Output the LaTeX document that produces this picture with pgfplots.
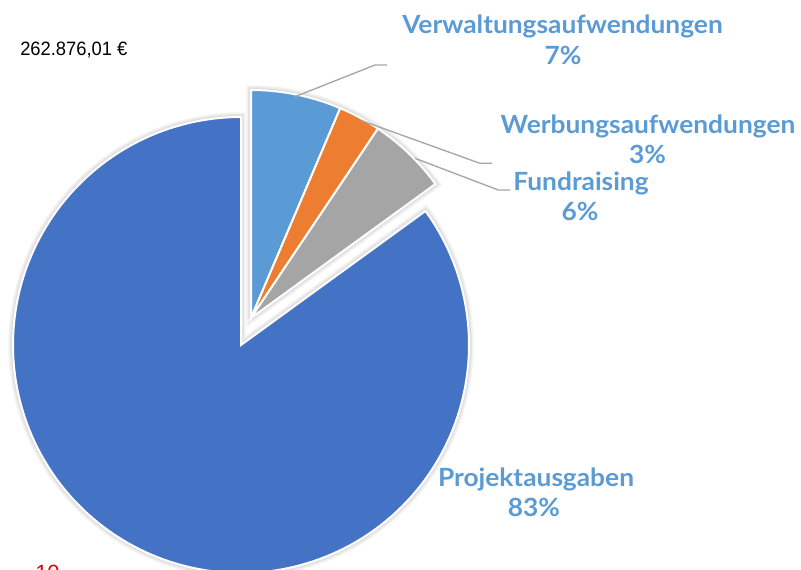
\documentclass[border=0pt]{standalone}
\usepackage{pgfplots}
\pgfplotsset{compat=1.18}
\usepackage{fontspec}
\setmainfont{Liberation Sans}
\newfontfamily\labelfont{Lato}
\definecolor{cP}{HTML}{4472C4}
\definecolor{cV}{HTML}{5B9BD5}
\definecolor{cW}{HTML}{ED7D31}
\definecolor{cF}{HTML}{A5A5A5}
\definecolor{cLab}{HTML}{5B9BD5}
\definecolor{cLine}{HTML}{A6A6A6}
% shares in percent (clockwise from 12 o'clock)
\def\vV{6.4}\def\vW{3.0}\def\vF{5.6}\def\vP{85.0}
\pgfmathsetmacro\aA{90}
\pgfmathsetmacro\aB{90-3.6*\vV}
\pgfmathsetmacro\aC{\aB-3.6*\vW}
\pgfmathsetmacro\aD{\aC-3.6*\vF}
\pgfmathsetmacro\aE{\aD-3.6*\vP}
\begin{document}%
\begin{tikzpicture}
\begin{axis}[at={(0,0)},anchor=south west, scale only axis,
  width=600.75pt, height=426.75pt,
  xmin=0,xmax=801,ymin=0,ymax=569, hide axis, clip=false]
\coordinate (bl) at (axis cs:0,0);
\coordinate (tr) at (axis cs:801,569);
% soft shadow
\pgfplotsinvokeforeach{7,4.5,2.5}{
\addplot[draw=black, opacity=0.05, line width=#1pt, domain=\aE:\aD, samples=220]
  ({241+228*cos(x)},{224+228*sin(x)}) -- (axis cs:241,224) -- cycle;
\addplot[draw=black, opacity=0.05, line width=#1pt, domain=\aD:\aA, samples=80]
  ({251+228*cos(x)},{251+228*sin(x)}) -- (axis cs:251,251) -- cycle;
}
% main slice
\addplot[fill=cP, draw=white, line width=1.5pt, domain=\aE:\aD, samples=220]
  ({241+228*cos(x)},{224+228*sin(x)}) -- (axis cs:241,224) -- cycle;
% exploded slices
\addplot[fill=cV, draw=white, line width=1.5pt, domain=\aB:\aA, samples=40]
  ({251+228*cos(x)},{251+228*sin(x)}) -- (axis cs:251,251) -- cycle;
\addplot[fill=cW, draw=white, line width=1.5pt, domain=\aC:\aB, samples=30]
  ({251+228*cos(x)},{251+228*sin(x)}) -- (axis cs:251,251) -- cycle;
\addplot[fill=cF, draw=white, line width=1.5pt, domain=\aD:\aC, samples=40]
  ({251+228*cos(x)},{251+228*sin(x)}) -- (axis cs:251,251) -- cycle;
% leader lines
\addplot[cLine, line width=1pt] coordinates {(295,472.3) (375,504) (387,504)};
\addplot[cLine, line width=1pt] coordinates {(361.7,448.3) (480,405.7) (492,405.7)};
\addplot[cLine, line width=1pt] coordinates {(415,410.7) (498.3,379) (510,379)};
% labels
\begin{scope}[every node/.style={inner sep=0pt, anchor=base, text=cLab, xscale=1.05, transform shape, font=\labelfont\bfseries\fontsize{18.8pt}{22pt}\selectfont}]
\node at (axis cs:562.5,535.7) {Verwaltungsaufwendungen};
\node at (axis cs:563,504) {7\%};
\node at (axis cs:648,435.7) {Werbungsaufwendungen};
\node at (axis cs:647.5,405.7) {3\%};
\node at (axis cs:581,379) {Fundraising};
\node at (axis cs:580,348.3) {6\%};
\node at (axis cs:536,82.3) {Projektausgaben};
\node at (axis cs:534,52.3) {83\%};
\end{scope}
\node[inner sep=0pt, anchor=base west, font=\fontsize{14.5pt}{17pt}\selectfont, xscale=0.95, transform shape] at (axis cs:20,513) {262.876,01 €};
\node[inner sep=0pt, anchor=base west, text={rgb,255:red,220;green,0;blue,0}, font=\fontsize{16.5pt}{19pt}\selectfont] at (axis cs:35,-11.8) {10};
\end{axis}
\pgfresetboundingbox
\useasboundingbox (bl) rectangle (tr);
\end{tikzpicture}%
\end{document}
